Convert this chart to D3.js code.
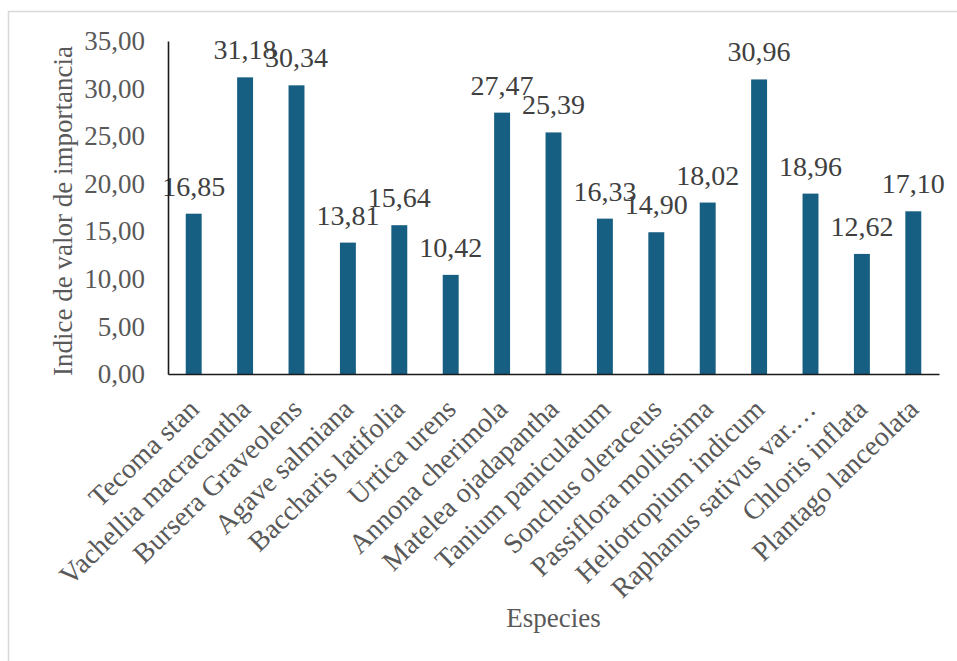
<!DOCTYPE html>
<html>
<head>
<meta charset="utf-8">
<script src="https://cdn.jsdelivr.net/npm/d3@7"></script>
<style>
  html, body { margin: 0; padding: 0; background: #fff; }
  svg { display: block; }
  text { font-family: "Liberation Serif", "Times New Roman", serif; }
</style>
</head>
<body>
<svg id="chart" width="957" height="661"></svg>
<script>
// Species and their importance value index
const species = [
  "Tecoma stan",
  "Vachellia macracantha",
  "Bursera Graveolens",
  "Agave salmiana",
  "Baccharis latifolia",
  "Urtica urens",
  "Annona cherimola",
  "Matelea ojadapantha",
  "Tanium paniculatum",
  "Sonchus oleraceus",
  "Passiflora mollissima",
  "Heliotropium indicum",
  "Raphanus sativus var.…",
  "Chloris inflata",
  "Plantago lanceolata"
];
const ivi = [16.85, 31.18, 30.34, 13.81, 15.64, 10.42, 27.47, 25.39, 16.33, 14.90, 18.02, 30.96, 18.96, 12.62, 17.10];
const yTicks = [0, 5, 10, 15, 20, 25, 30, 35];

const yTitle = "Indice de valor de importancia";
const xTitle = "Especies";

const locale = d3.formatLocale({ decimal: ",", thousands: ".", grouping: [3], currency: ["", " €"] });
const fmt = locale.format(".2f");

const svg = d3.select("#chart");
const W = 957, H = 661;
const plot = { left: 168, right: 939, top: 41, bottom: 374 };

// Chart area frame (top and left edges fall inside the canvas)
svg.append("path")
  .attr("d", `M8.5,${H + 2} V11.5 H${W + 2}`)
  .attr("fill", "none")
  .attr("stroke", "#d9d9d9")
  .attr("stroke-width", 1.5);

const x = d3.scaleBand()
  .domain(species)
  .range([plot.left, plot.right])
  .paddingInner(0.69)
  .paddingOuter(0.345);

const y = d3.scaleLinear()
  .domain([0, 35])
  .range([plot.bottom, plot.top]);

// Bars
svg.append("g")
  .selectAll("rect")
  .data(ivi)
  .join("rect")
  .attr("x", (d, i) => x(species[i]))
  .attr("y", d => y(d))
  .attr("width", x.bandwidth())
  .attr("height", d => y(0) - y(d))
  .attr("fill", "#165e82");

// Value labels
svg.append("g")
  .selectAll("text")
  .data(ivi)
  .join("text")
  .attr("x", (d, i) => x(species[i]) + x.bandwidth() / 2)
  .attr("y", d => y(d) - 18)
  .attr("text-anchor", "middle")
  .attr("font-size", 28)
  .attr("fill", "#404040")
  .text(d => fmt(d));

// Y axis
const yAxis = svg.append("g")
  .attr("transform", `translate(${plot.left},0)`)
  .call(d3.axisLeft(y).tickValues(yTicks).tickFormat(fmt).tickSize(0).tickSizeOuter(0).tickPadding(23));
yAxis.select(".domain").attr("stroke", "#1a1a1a").attr("stroke-width", 1.6);
yAxis.selectAll(".tick text")
  .attr("font-size", 27)
  .attr("fill", "#595959");

// X axis with slanted species names
const xAxis = svg.append("g")
  .attr("transform", `translate(0,${plot.bottom})`)
  .call(d3.axisBottom(x).tickSize(0).tickSizeOuter(0));
xAxis.select(".domain").attr("stroke", "#1a1a1a").attr("stroke-width", 1.6);
xAxis.selectAll(".tick text")
  .attr("font-size", 28)
  .attr("fill", "#595959")
  .attr("text-anchor", "end")
  .attr("dy", null)
  .attr("y", 0)
  .attr("transform", "translate(7,37) rotate(-44)");

// Axis titles
svg.append("text")
  .attr("transform", `translate(72,211) rotate(-90)`)
  .attr("text-anchor", "middle")
  .attr("font-size", 27)
  .attr("fill", "#595959")
  .text(yTitle);

svg.append("text")
  .attr("x", (plot.left + plot.right) / 2)
  .attr("y", 627)
  .attr("text-anchor", "middle")
  .attr("font-size", 27)
  .attr("fill", "#595959")
  .text(xTitle);
</script>
</body>
</html>
